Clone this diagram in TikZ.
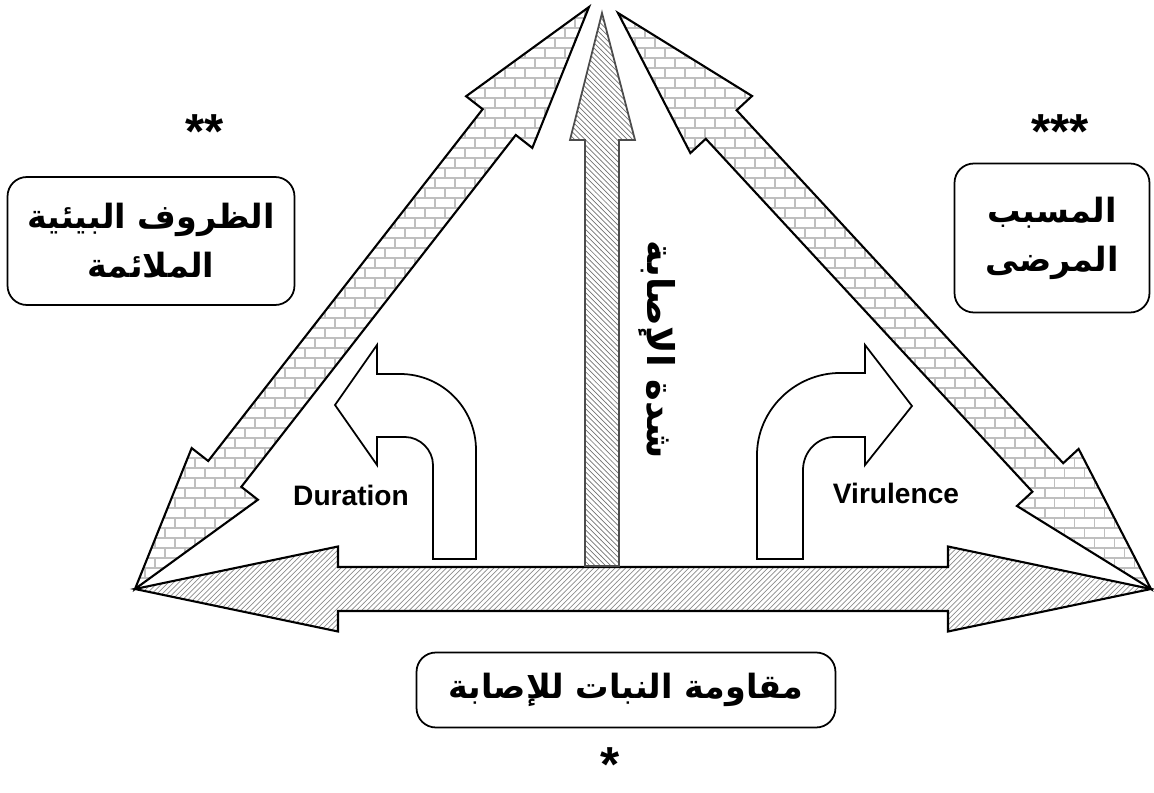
\documentclass[tikz,border=0pt]{standalone}
\usepackage{fontspec}
\setmainfont{Liberation Sans}
\newfontfamily\arabicfont[Script=Arabic]{DejaVu Sans}
\TeXXeTstate=1
\usetikzlibrary{positioning,calc,patterns}

% double headed block arrow: tips #1 and #2, head length #3, head half width #4, shaft half width #5
\newcommand{\dblarrow}[6]{%
  \draw[#6] (#1) -- ($(#1)!#3!(#2)!#4!90:(#2)$) -- ($(#1)!#3!(#2)!#5!90:(#2)$)
    -- ($(#2)!#3!(#1)!#5!-90:(#1)$) -- ($(#2)!#3!(#1)!#4!-90:(#1)$) -- (#2)
    -- ($(#2)!#3!(#1)!#4!90:(#1)$) -- ($(#2)!#3!(#1)!#5!90:(#1)$)
    -- ($(#1)!#3!(#2)!#5!-90:(#2)$) -- ($(#1)!#3!(#2)!#4!-90:(#2)$) -- cycle;}

\begin{document}
\begin{tikzpicture}[x=0.02cm, y=-0.02cm,
    side arrow/.style={draw, line width=1.2pt, pattern=bricks, pattern color=black!25},
    base arrow/.style={draw, line width=1.2pt, pattern=north east lines, pattern color=black!45},
    up arrow/.style={draw=black!70, line width=1pt, pattern=north west lines, pattern color=black!55},
    bend arrow/.style={draw, line width=1pt, fill=white},
    label box/.style={draw, line width=1pt, rounded corners=11pt, align=center, inner sep=0pt},
    arab/.style={font=\arabicfont\bfseries\fontsize{19}{28}\selectfont},
    stars/.style={font=\bfseries\fontsize{28}{28}\selectfont, inner sep=0pt},
    eng/.style={font=\bfseries\fontsize{16}{16}\selectfont}]
    \useasboundingbox (0,0) rectangle (1154,793);

    \coordinate (tip_left) at (135,589);
    \coordinate (tip_right) at (1151,589);
    \coordinate (tip_top_l) at (589,7);
    \coordinate (tip_top_r) at (618,13);

    % triangle sides
    \dblarrow{tip_left}{tip_top_l}{2.92cm}{0.84cm}{0.42cm}{side arrow}
    \dblarrow{tip_right}{tip_top_r}{3.04cm}{0.84cm}{0.42cm}{side arrow}
    \dblarrow{tip_left}{tip_right}{4.06cm}{0.85cm}{0.44cm}{base arrow}

    % severity
    \draw[up arrow] (602,13) -- (635,140) -- (619,140) -- (619,566) -- (585,566)
        -- (585,140) -- (570,140) -- cycle;

    % duration and virulence
    \draw[bend arrow] (476,559) -- (476,450) .. controls (476,408) and (442,374) .. (400,374)
        -- (377,374) -- (377,345) -- (335,405) -- (377,465) -- (377,437) -- (405,437)
        .. controls (420,437) and (433,450) .. (433,465) -- (433,559) -- cycle;
    \draw[bend arrow] (757,559) -- (757,455) .. controls (757,410) and (795,373) .. (840,373)
        -- (865,373) -- (865,345) -- (912,406) -- (865,465) -- (865,437) -- (835,437)
        .. controls (817,437) and (803,452) .. (803,470) -- (803,559) -- cycle;

    \node[eng] (duration) at (351,495) {Duration};
    \node[eng] (virulence) at (896,493) {Virulence};

    \node[label box, arab, minimum width=5.74cm, minimum height=2.56cm] (box_env) at (151,241)
        {\beginR الظروف البيئية\endR\\\beginR الملائمة\endR};
    \node[label box, arab, minimum width=3.9cm, minimum height=2.98cm] (box_path) at (1052,238)
        {\beginR المسبب\endR\\\beginR المرضى\endR};
    \node[label box, arab, minimum width=8.38cm, minimum height=1.5cm] (box_host) at (626,690)
        {\beginR مقاومة النبات للإصابة\endR};

    \node[rotate=-90, font=\arabicfont\bfseries\fontsize{21}{21}\selectfont] (severity) at (657,350)
        {\beginR شدة الإصابة\endR};

    \node[stars, anchor=north] (star_env) at (205,114) {**};
    \node[stars, anchor=north] (star_path) at (1060,114) {***};
    \node[stars, anchor=base] (star_host) at (610,782) {*};
\end{tikzpicture}
\end{document}
